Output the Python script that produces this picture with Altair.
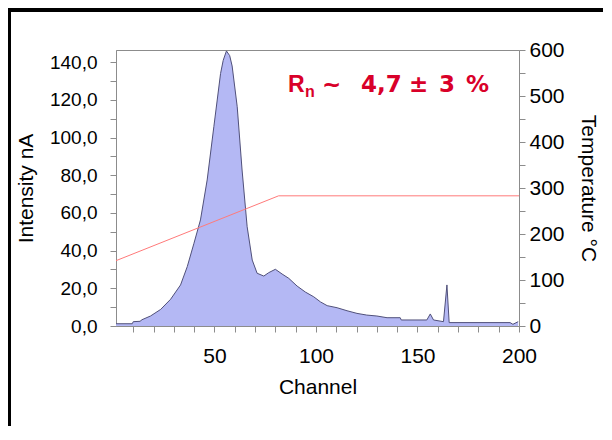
import altair as alt
import pandas as pd

# ---- data ----
channel = [1.5, 9.5, 10.0, 13.5, 14.0, 18.5, 23.5, 28.4, 33.3, 36.6, 39.9, 43.1,
           46.4, 49.7, 53.0, 54.3, 55.9, 57.5, 58.7, 61.2, 63.6, 66.1, 68.6, 71.0, 74.3,
           76.7, 80.0, 83.3, 86.6, 90.7, 94.8, 98.9, 102.2, 105.5, 110.4, 115.3,
           120.2, 125.0, 130.0, 135.0, 141.5, 142.0, 154.6, 156.3, 157.9, 162.8,
           164.5, 165.6, 195.6, 197.0, 199.6]
intensity = [1.2, 1.2, 2.3, 2.5, 3.2, 5.3, 8.8, 14.2, 21.8, 31.5, 43.9, 56.3,
             77.5, 105.8, 134.0, 141.0, 146.0, 143.5, 138.0, 116.4, 82.8, 52.7, 35.0, 28.0, 26.5,
             28.3, 30.1, 27.6, 25.3, 21.2, 18.0, 15.5, 12.8, 10.8, 9.7, 8.1,
             6.7, 5.8, 5.3, 4.4, 4.4, 3.2, 3.2, 6.4, 3.2, 2.3,
             21.8, 1.8, 1.8, 0.9, 2.3]

temp_channel = [1.5, 81.6, 200.0]
temperature = [142, 283, 283]

x_ticks = list(range(10, 210, 10))
left_ticks = list(range(0, 150, 10))
right_ticks = list(range(0, 650, 50))

spec_df = pd.DataFrame({"Channel": channel, "Intensity": intensity})
temp_df = pd.DataFrame({"Channel": temp_channel, "Temperature": temperature})

FONT = "Liberation Sans"
AX = "#8c8c8c"
RED = "#d90029"

x_enc = alt.X(
    "Channel:Q",
    scale=alt.Scale(domain=[1.5, 200], nice=False, zero=False),
    axis=alt.Axis(values=x_ticks,
                  labelExpr="datum.value % 50 == 0 ? datum.label : ''",
                  labelFlush=False, labelOverlap=False, tickSize=6,
                  labelPadding=13, labelFontSize=21, title="Channel",
                  titleFontSize=21, titlePadding=10),
)

area = alt.Chart(spec_df).mark_area(
    color="#b4b8f4", opacity=1,
    line=alt.OverlayMarkDef(color="#50507a", strokeWidth=1),
).encode(
    x=x_enc,
    y=alt.Y("Intensity:Q",
            scale=alt.Scale(domain=[0, 146.5], nice=False),
            axis=alt.Axis(values=left_ticks, orient="left",
                          labelExpr="datum.value % 20 == 0 ? replace(format(datum.value, '.1f'), '.', ',') : ''",
                          labelOverlap=False, tickSize=6, labelPadding=13,
                          labelFontSize=19, title="Intensity nA",
                          titleFontSize=21, titlePadding=13)),
)

line = alt.Chart(temp_df).mark_line(color="#ff7a7a", strokeWidth=1).encode(
    x=x_enc,
    y=alt.Y("Temperature:Q",
            scale=alt.Scale(domain=[0, 600], nice=False),
            axis=alt.Axis(values=right_ticks, orient="right",
                          labelExpr="datum.value % 100 == 0 ? datum.label : ''",
                          labelOverlap=False, tickSize=6, labelPadding=4,
                          labelFontSize=21, title="Temperature °C",
                          titleFontSize=21, titlePadding=13)),
)

one = alt.Data(values=[{"a": 1}])


def txt(s, x, y, size, font=FONT):
    return alt.Chart(one).mark_text(
        text=s, align="left", baseline="alphabetic", font=font,
        fontWeight="bold", fontSize=size, color=RED,
    ).encode(x=alt.value(x), y=alt.value(y))


WIDE = "DejaVu Sans"
notes = [
    txt("R", 172, 42, 23),
    txt("n", 189, 47, 16),
    txt("~", 206, 42, 23, WIDE),
    txt("4,7", 245, 42, 23, WIDE),
    txt("±", 293, 42, 23, WIDE),
    txt("3", 323, 42, 23, WIDE),
    txt("%", 350, 42, 23, WIDE),
]

frame_top = alt.Chart(one).mark_rule(color="black", strokeWidth=6).encode(
    x=alt.value(-110), x2=alt.value(500), y=alt.value(-41))
frame_left = alt.Chart(one).mark_rule(color="black", strokeWidth=6).encode(
    x=alt.value(-108), y=alt.value(-50), y2=alt.value(420))

chart = alt.layer(area, line, *notes, frame_top, frame_left).resolve_scale(
    y="independent"
).properties(
    width=403, height=276,
    autosize=alt.AutoSizeParams(type="none"),
    padding={"left": 108, "top": 42, "right": 84, "bottom": 100},
).configure_view(stroke=AX, strokeWidth=1).configure_axis(
    domainColor=AX, tickColor=AX, labelColor="black", titleColor="black",
    labelFont=FONT, titleFont=FONT, titleFontWeight="normal", grid=False,
)

chart.save("out.html", embed_options={"renderer": "svg", "actions": False})
